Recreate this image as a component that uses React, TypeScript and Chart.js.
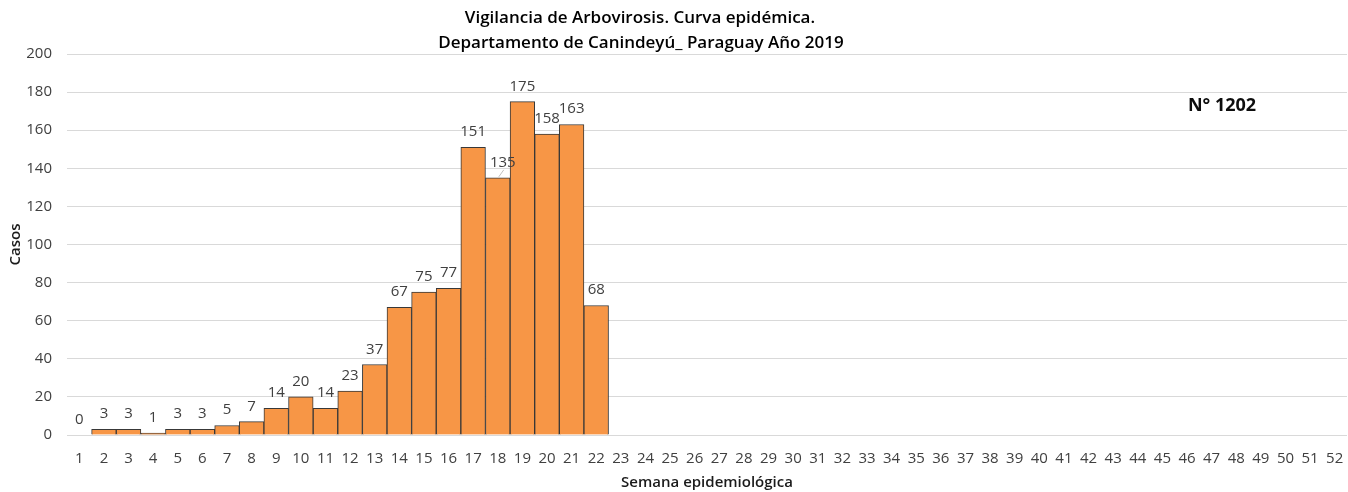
import React, { useEffect, useRef } from "react";
import { Chart, registerables } from "chart.js";

Chart.register(...registerables);

const weeks: string[] = Array.from({ length: 52 }, (_, i) => String(i + 1));
const cases: (number | null)[] = [
  0, 3, 3, 1, 3, 3, 5, 7, 14, 20, 14, 23, 37, 67, 75, 77, 151, 135, 175, 158, 163, 68,
];
const yTicks: number[] = [0, 20, 40, 60, 80, 100, 120, 140, 160, 180, 200];
const titleLines: string[] = [
  "Vigilancia de Arbovirosis. Curva epidémica.",
  "Departamento de Canindeyú_ Paraguay Año 2019",
];
const noteText = "N° 1202";

const FONT = "'Open Sans', 'Noto Sans', sans-serif";

const overlayPlugin = {
  id: "overlay",
  afterDatasetsDraw(chart: any) {
    const ctx = chart.ctx;
    const meta = chart.getDatasetMeta(0);
    ctx.save();
    ctx.font = `15px ${FONT}`;
    ctx.fillStyle = "#404040";
    ctx.textAlign = "center";
    ctx.textBaseline = "alphabetic";
    meta.data.forEach((bar: any, i: number) => {
      const v = cases[i];
      if (v === null || v === undefined) return;
      const dx = i === 17 ? 5 : 0;
      if (i === 17) {
        ctx.save();
        ctx.strokeStyle = "#bfbfbf";
        ctx.lineWidth = 1;
        ctx.beginPath();
        ctx.moveTo(bar.x + 6, bar.y - 8);
        ctx.lineTo(bar.x + 1, bar.y - 1);
        ctx.stroke();
        ctx.restore();
      }
      ctx.fillText(String(v), bar.x + dx, bar.y - 11);
    });
    ctx.font = `600 17px ${FONT}`;
    ctx.fillStyle = "#000000";
    ctx.fillText(titleLines[0], 640, 23);
    ctx.fillText(titleLines[1], 641, 48);
    ctx.font = `bold 18px ${FONT}`;
    ctx.fillStyle = "#0d0d0d";
    ctx.fillText(noteText, 1222, 111);
    ctx.restore();
  },
};

export default function App() {
  const ref = useRef<HTMLCanvasElement | null>(null);
  useEffect(() => {
    document.body.style.margin = "0";
    const canvas = ref.current!;
    const chart = new Chart(canvas, {
      type: "bar",
      data: {
        labels: weeks,
        datasets: [
          {
            data: weeks.map((_, i) => (i < cases.length ? cases[i] : null)),
            backgroundColor: "#F79646",
            borderColor: "#383838",
            borderWidth: 1,
            barPercentage: 1,
            categoryPercentage: 1,
          },
        ],
      },
      options: {
        animation: false,
        responsive: false,
        maintainAspectRatio: false,
        layout: { padding: { top: 54, right: 1, left: 0, bottom: 0 } },
        plugins: {
          legend: { display: false },
          tooltip: { enabled: false },
          title: { display: false },
        },
        scales: {
          x: {
            grid: { display: false, drawTicks: false },
            border: { display: false },
            ticks: {
              color: "#404040",
              font: { family: FONT, size: 15 },
              padding: 15,
              maxRotation: 0,
              autoSkip: false,
            },
            title: {
              display: true,
              text: "Semana epidemiológica",
              color: "#1a1a1a",
              font: { family: FONT, size: 15, weight: "600" },
              padding: { top: 2, bottom: 0 },
            },
            afterFit: (s: any) => {
              s.height = 57;
              s.paddingLeft = 0;
              s.paddingRight = 0;
            },
          },
          y: {
            min: 0,
            max: 200,
            afterBuildTicks: (s: any) => {
              s.ticks = yTicks.map((v) => ({ value: v }));
            },
            grid: { color: "#d9d9d9", drawTicks: false, lineWidth: 1 },
            border: { display: false },
            ticks: {
              color: "#404040",
              font: { family: FONT, size: 15 },
              padding: 15,
            },
            title: {
              display: true,
              text: "Casos",
              color: "#1a1a1a",
              font: { family: FONT, size: 15, weight: "600" },
              padding: { top: 7, bottom: 0 },
            },
            afterFit: (s: any) => {
              s.width = 67;
              s.paddingTop = 0;
              s.paddingBottom = 0;
            },
          },
        },
      },
      plugins: [overlayPlugin],
    });
    return () => chart.destroy();
  }, []);
  return <canvas ref={ref} width={1348} height={492} style={{ display: "block" }} />;
}
